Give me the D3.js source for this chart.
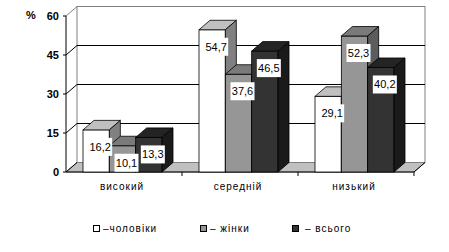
<!DOCTYPE html>
<html>
<head>
<meta charset="utf-8">
<script src="https://cdn.jsdelivr.net/npm/d3@7"></script>
<style>
  body { margin: 0; background: #fff; }
  text { font-family: Arial, "Liberation Sans", sans-serif; }
</style>
</head>
<body>
<div id="chart"></div>
<script>
const categories = ['високий', 'середній', 'низький'];
const seriesNames = ['–чоловіки', '– жінки', '– всього'];
const men = [16.2, 54.7, 29.1];
const women = [10.1, 37.6, 52.3];
const total = [13.3, 46.5, 40.2];
const yTicks = [0, 15, 30, 45, 60];

const width = 449, height = 252;
const dx = 11, dy = -9.5;

// face colours per series: front, top, side
const faces = [
    ['#ffffff', '#c0c0c0', '#808080'],
    ['#969696', '#7a7a7a', '#5c5c5c'],
    ['#333333', '#242424', '#1a1a1a']
];

const svg = d3.select('#chart').append('svg')
    .attr('width', width)
    .attr('height', height);

const x = d3.scaleBand().domain(categories).range([66, 414]);
const xs = d3.scaleBand().domain(d3.range(3)).range([17, 96]);
const y = d3.scaleLinear().domain([0, 60]).range([172, 16]);

const g = svg.append('g');

// back wall
g.append('rect')
    .attr('x', x.range()[0] + dx).attr('y', y(60) + dy)
    .attr('width', x.range()[1] - x.range()[0]).attr('height', y(0) - y(60))
    .attr('fill', '#fff').attr('stroke', '#808080');

// gridlines on wall + diagonal ticks
yTicks.filter(d => d > 0).forEach(d => {
    if (d < 60) {
        g.append('line')
            .attr('x1', x.range()[0] + dx).attr('x2', x.range()[1] + dx)
            .attr('y1', y(d) + dy).attr('y2', y(d) + dy)
            .attr('stroke', '#000');
    }
    g.append('line')
        .attr('x1', x.range()[0]).attr('y1', y(d))
        .attr('x2', x.range()[0] + dx).attr('y2', y(d) + dy)
        .attr('stroke', d == 60 ? '#808080' : '#000');
});

// floor
const x0 = x.range()[0], x1 = x.range()[1];
g.append('path')
    .attr('d', `M${x0},${y(0)}L${x1},${y(0)}L${x1 + dx},${y(0) + dy}L${x0 + dx},${y(0) + dy}Z`)
    .attr('fill', '#c0c0c0').attr('stroke', '#808080');
g.append('path')
    .attr('d', `M${x0 + dx},${y(0) + dy}L${x0},${y(0)}L${x1},${y(0)}L${x1 + dx},${y(0) + dy}`)
    .attr('fill', 'none').attr('stroke', '#000');

// y axis
g.append('line')
    .attr('x1', x0).attr('x2', x0)
    .attr('y1', y(60)).attr('y2', y(0))
    .attr('stroke', '#000');
yTicks.forEach(d => {
    g.append('line')
        .attr('x1', x0 - 3).attr('x2', x0)
        .attr('y1', y(d)).attr('y2', y(d))
        .attr('stroke', '#000');
    g.append('text')
        .attr('x', 59).attr('y', y(d) + 4)
        .attr('text-anchor', 'end')
        .style('font-size', '11px').style('font-weight', 'bold')
        .text(d);
});
g.append('text')
    .attr('x', 26).attr('y', 19)
    .style('font-size', '11px').style('font-weight', 'bold')
    .text('%');

// category ticks & labels
categories.forEach((c, i) => {
    g.append('line')
        .attr('x1', x(c) + x.bandwidth()).attr('x2', x(c) + x.bandwidth())
        .attr('y1', y(0)).attr('y2', y(0) + 4)
        .attr('stroke', '#000');
    g.append('text')
        .attr('x', x(c) + x.bandwidth() / 2 - 2).attr('y', 190)
        .attr('text-anchor', 'middle')
        .style('font-size', '10px').style('letter-spacing', '1px')
        .text(c);
});

// bars
const series = [men, women, total];
const labels = [];
categories.forEach((c, i) => {
    series.forEach((s, k) => {
        const bx = x(c) + xs(k), bw = xs.bandwidth();
        const top = y(s[i]), base = y(0);
        const col = faces[k];
        g.append('rect')
            .attr('x', bx).attr('y', top)
            .attr('width', bw).attr('height', base - top)
            .attr('fill', col[0]).attr('stroke', '#000').attr('stroke-width', 0.8);
        g.append('path')
            .attr('d', `M${bx},${top}L${bx + dx},${top + dy}L${bx + bw + dx},${top + dy}L${bx + bw},${top}Z`)
            .attr('fill', col[1]).attr('stroke', '#000').attr('stroke-width', 0.8);
        g.append('path')
            .attr('d', `M${bx + bw},${top}L${bx + bw + dx},${top + dy}L${bx + bw + dx},${base + dy}L${bx + bw},${base}Z`)
            .attr('fill', col[2]).attr('stroke', '#000').attr('stroke-width', 0.8);
        labels.push({ x: bx + bw / 2 + 4, y: top + 17, v: s[i] });
    });
});

// value labels
labels.forEach(l => {
    g.append('rect')
        .attr('x', l.x - 12).attr('y', l.y - 9)
        .attr('width', 24).attr('height', 18)
        .attr('fill', '#fff');
    g.append('text')
        .attr('x', l.x).attr('y', l.y + 4)
        .attr('text-anchor', 'middle')
        .style('font-size', '11px')
        .text(d3.format('.1f')(l.v).replace('.', ','));
});

// legend
const legendX = [93, 200, 292];
const legendTextX = [103, 210, 305];
seriesNames.forEach((n, k) => {
    svg.append('rect')
        .attr('x', legendX[k] + 0.5).attr('y', 225.5)
        .attr('width', 6).attr('height', 6)
        .attr('fill', faces[k][0]).attr('stroke', '#000');
    svg.append('text')
        .attr('x', legendTextX[k]).attr('y', 232)
        .style('font-size', '10px').style('letter-spacing', '1px')
        .text(n);
});
</script>
</body>
</html>
